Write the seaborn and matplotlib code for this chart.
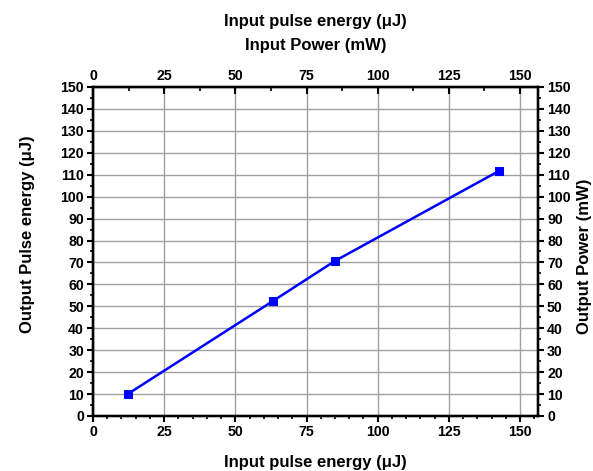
import matplotlib
matplotlib.use("Agg")
import matplotlib.pyplot as plt
import seaborn as sns
import pandas as pd
from matplotlib.ticker import MultipleLocator

# Data
input_energy = [12.2, 63.3, 85.0, 142.7]
output_energy = [10.0, 52.5, 70.7, 111.8]

df = pd.DataFrame({"Input": input_energy, "Output": output_energy})

sns.set_theme(style="white")
plt.rcParams['font.family'] = ['Liberation Sans', 'DejaVu Sans']
plt.rcParams['font.weight'] = 'bold'
plt.rcParams['text.color'] = 'black'
plt.rcParams['axes.labelcolor'] = 'black'
plt.rcParams['xtick.color'] = 'black'
plt.rcParams['ytick.color'] = 'black'

fig = plt.figure(figsize=(5.93, 4.71), dpi=100)
ax = fig.add_axes([0.1568, 0.1168, 0.7505, 0.6985])

sns.lineplot(data=df, x="Input", y="Output", ax=ax, color="#0000ff", linewidth=1.8,
             marker="s", markersize=5.5, markeredgecolor="#0000ff")

ax.set_xlim(0, 156.3)
ax.set_ylim(0, 150)
ax.xaxis.set_major_locator(MultipleLocator(25))
ax.xaxis.set_minor_locator(MultipleLocator(5))
ax.yaxis.set_major_locator(MultipleLocator(10))
ax.yaxis.set_minor_locator(MultipleLocator(5))
ax.grid(True, which="major", color="#a0a0a0", linewidth=1)
ax.tick_params(which="major", direction="out", length=4, width=1.5, labelsize=10.2, pad=2.5)
ax.tick_params(which="minor", direction="out", length=2.5, width=1.2)
ax.set_xlabel("Input pulse energy (μJ)", fontsize=12, fontweight="bold")
ax.set_ylabel("Output Pulse energy (μJ)", fontsize=12, fontweight="bold")
ax.xaxis.set_label_coords(0.5, -0.118)
ax.yaxis.set_label_coords(-0.13, 0.553)
for lab in ax.get_xticklabels() + ax.get_yticklabels():
    lab.set_fontweight("bold")

# top axis
axt = ax.twiny()
axt.set_xlim(ax.get_xlim())
axt.xaxis.set_major_locator(MultipleLocator(25))
axt.xaxis.set_minor_locator(MultipleLocator(12.5))
axt.tick_params(which="major", direction="in", length=5, width=1.5, labelsize=10.2, pad=3)
axt.tick_params(which="minor", direction="in", length=3, width=1.2)
axt.set_xlabel("Input pulse energy (μJ)\nInput Power (mW)", fontsize=12,
               fontweight="bold", linespacing=1.75)
axt.xaxis.set_label_coords(0.5, 1.112)
for lab in axt.get_xticklabels():
    lab.set_fontweight("bold")

# right axis
axr = ax.twinx()
axr.set_ylim(ax.get_ylim())
axr.yaxis.set_major_locator(MultipleLocator(10))
axr.yaxis.set_minor_locator(MultipleLocator(5))
axr.tick_params(which="major", direction="out", length=4, width=1.5, labelsize=10.2, pad=2.5)
axr.tick_params(which="minor", direction="out", length=2.5, width=1.2)
axr.set_ylabel("Output Power (mW)", fontsize=12, fontweight="bold")
axr.yaxis.set_label_coords(1.088, 0.486)
for lab in axr.get_yticklabels():
    lab.set_fontweight("bold")

for a in (ax, axt, axr):
    for sp in a.spines.values():
        sp.set_color("black")
        sp.set_linewidth(1.6)

fig.savefig("out.png", dpi=100)
